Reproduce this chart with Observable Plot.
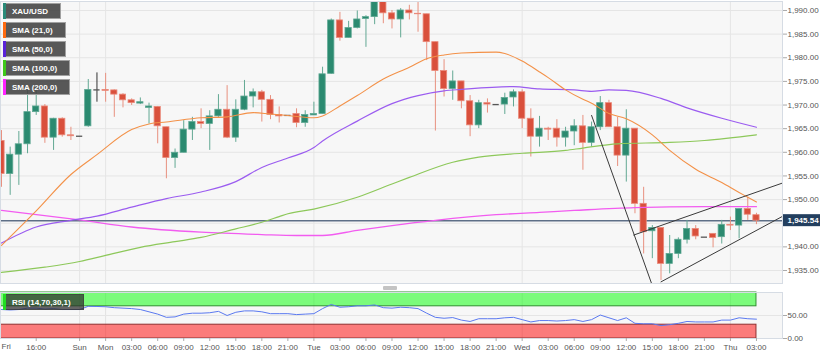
<!DOCTYPE html>
<html>
<head>
<meta charset="utf-8">
<script src="https://cdn.jsdelivr.net/npm/d3@7"></script>
<script src="https://cdn.jsdelivr.net/npm/@observablehq/plot@0.6"></script>
<style>
html,body{margin:0;padding:0;background:#fff;}
#wrap{position:relative;width:831px;height:357px;overflow:hidden;font-family:"Liberation Sans",Arial,sans-serif;}
#main,#rsi{position:absolute;left:0;}
#main{top:0;}
#rsi{top:288px;}
.leg{position:absolute;left:3px;height:16px;box-sizing:border-box;padding:0 12px 0 9px;line-height:15px;font-size:8px;font-weight:bold;color:#fff;background:rgba(70,70,70,0.9);border:1px solid #a0a0a0;border-left:none;white-space:nowrap;}
.leg b{position:absolute;left:0;top:-1px;bottom:-1px;width:3px;}
.leg.rsi{background:rgba(45,45,45,0.72);border-color:rgba(60,60,60,0.6);}
#handle{position:absolute;left:383px;top:286px;width:14px;height:4px;background:#c4c4c4;border-radius:1px;}
</style>
</head>
<body>
<div id="wrap">
  <div id="main"></div>
  <div id="handle"></div>
  <div id="rsi"></div>
</div>
<script>
// ---------- data ----------
const open  = [1962.4,1955.4,1959.5,1961.7,1968.5,1969.7,1963.1,1967.1,1963.6,1963.4,
               1965.5,1973.2,1973.2,1973.1,1972.2,1971.0,1970.3,1969.4,1969.6,1965.3,
               1958.8,1959.9,1964.8,1966.4,1966.0,1967.6,1969.0,1963.1,1969.0,1971.8,
               1972.7,1971.1,1967.9,1967.8,1968.1,1966.2,1967.8,1968.1,1976.6,1987.9,
               1984.2,1986.3,1988.2,1988.6,1992.4,1989.4,1988.1,1990.0,1989.3,1989.2,
               1983.3,1977.2,1973.4,1975.0,1970.8,1965.7,1970.4,1970.1,1970.1,1971.6,
               1972.7,1967.1,1963.3,1965.0,1965.0,1963.1,1964.4,1965.5,1962.0,1965.3,
               1970.4,1965.3,1959.3,1965.0,1949.1,1943.3,1944.0,1936.4,1938.5,1941.5,
               1943.8,1942.05,1942.75,1942.05,1944.65,1944.5,1948.0,1946.7];
const high  = [1964.6,1961.1,1964.4,1973.1,1973.1,1970.1,1967.2,1967.3,1965.3,1963.4,
               1975.4,1976.8,1976.7,1973.2,1972.4,1971.3,1971.5,1970.4,1969.7,1965.3,
               1960.7,1966.7,1967.4,1969.2,1968.8,1972.2,1974.1,1971.1,1975.2,1973.4,
               1973.1,1972.0,1969.6,1967.8,1969.2,1968.8,1970.6,1978.0,1988.2,1989.6,
               1987.7,1989.9,1988.9,1993.5,1993.5,1990.0,1990.4,1991.1,1991.8,1989.2,
               1983.3,1979.6,1977.2,1975.0,1972.0,1971.0,1971.3,1970.1,1972.5,1973.2,
               1973.2,1969.2,1967.6,1965.3,1966.9,1965.3,1966.9,1967.8,1966.4,1971.8,
               1971.0,1967.4,1969.0,1965.0,1952.6,1944.5,1944.0,1942.4,1941.9,1945.6,
               1944.5,1942.05,1942.75,1945.6,1946.3,1948.0,1950.5,1947.1];
const low   = [1952.6,1950.9,1953.0,1959.7,1967.8,1961.9,1960.4,1963.2,1962.5,1963.4,
               1965.3,1970.6,1970.6,1967.4,1969.4,1969.9,1970.1,1966.0,1961.8,1954.4,
               1956.6,1959.9,1962.5,1965.0,1960.4,1967.4,1962.9,1962.1,1968.8,1969.4,
               1966.4,1966.9,1966.2,1967.8,1965.2,1965.3,1967.8,1968.1,1976.5,1983.5,
               1984.2,1986.1,1982.2,1987.0,1987.2,1986.1,1984.2,1988.0,1985.4,1979.4,
               1964.5,1971.7,1971.0,1969.2,1963.3,1965.0,1968.3,1970.1,1968.0,1969.6,
               1965.0,1959.0,1961.1,1962.5,1961.1,1961.1,1961.4,1956.2,1961.1,1964.6,
               1965.3,1957.0,1953.7,1947.0,1938.5,1937.5,1932.9,1934.3,1937.5,1940.6,
               1941.5,1942.05,1939.8,1940.6,1943.45,1941.7,1945.6,1944.7];
const close = [1955.4,1959.5,1961.7,1968.5,1969.7,1963.1,1967.1,1963.6,1963.4,1963.4,
               1973.2,1973.2,1973.0,1972.2,1971.0,1970.4,1970.6,1969.7,1965.5,1958.8,
               1959.9,1964.8,1966.4,1966.0,1967.6,1969.0,1963.1,1969.0,1971.8,1972.7,
               1971.1,1967.9,1967.6,1967.8,1966.2,1967.9,1968.1,1976.5,1987.9,1984.2,
               1986.3,1988.1,1988.6,1992.4,1989.4,1988.1,1990.0,1989.4,1989.2,1983.3,
               1977.2,1973.4,1975.0,1970.8,1965.7,1970.4,1970.1,1970.1,1971.5,1972.7,
               1967.1,1963.3,1965.0,1964.8,1963.1,1964.4,1965.5,1962.0,1965.3,1970.4,
               1965.3,1959.3,1965.0,1949.1,1943.1,1944.0,1936.4,1938.5,1941.5,1943.8,
               1942.2,1942.05,1941.9,1944.65,1944.5,1948.0,1946.8,1945.54];

// moving averages: [bar index, value]
const sma21 = [[0,1940.3],[4,1947.6],[8,1955.3],[11,1959.5],[15,1964.8],[17,1966.0],[19,1966.4],
  [23,1967.3],[26,1967.5],[29,1968.4],[31,1968.1],[33,1967.8],[36,1967.3],[37,1967.7],[39,1969.8],
  [41,1972.0],[44,1975.5],[47,1978.0],[49,1979.8],[51,1980.6],[53,1981.0],[57,1981.2],[58,1980.9],
  [60,1979.3],[62,1977.0],[63,1975.8],[65,1973.2],[67,1971.2],[68,1970.4],[70,1968.2],[72,1967.1],
  [75,1963.7],[77,1960.4],[80,1956.4],[83,1953.6],[85,1951.5],[86,1950.5],[87,1949.5]];
const sma50 = [[0,1940.8],[4,1944.2],[8,1945.6],[11,1946.5],[15,1948.4],[19,1950.2],[23,1951.6],
  [27,1953.8],[30,1956.8],[33,1958.8],[36,1961.0],[37,1962.4],[41,1966.6],[45,1970.3],[48,1972.0],
  [51,1973.0],[53,1973.3],[59,1973.9],[62,1973.4],[66,1973.2],[68,1972.9],[70,1973.2],[72,1973.1],
  [76,1971.4],[79,1969.4],[83,1967.2],[87,1965.3]];
const sma100 = [[0,1934.6],[5,1935.7],[9,1936.9],[12,1938.2],[16,1939.9],[20,1941.1],[23,1942.0],
  [27,1943.8],[30,1945.2],[32,1946.4],[33,1947.0],[36,1948.0],[41,1950.5],[45,1953.3],[47,1954.7],
  [52,1957.9],[55,1959.0],[60,1959.8],[65,1960.4],[67,1960.9],[71,1961.8],[77,1962.1],[81,1962.5],[87,1963.7]];
const sma200 = [[0,1947.7],[9,1945.7],[15,1944.2],[23,1943.1],[30,1942.6],[34,1942.4],[37,1942.4],
  [41,1943.5],[45,1944.5],[50,1945.6],[57,1946.8],[62,1947.3],[66,1947.7],[73,1948.3],[81,1948.5],[87,1948.5]];

// drawn trend lines: [bar index, price]
const trendDown  = [[68,1967.8],[75,1931.8]];
const trendUpper = [[72.86,1942.5],[90,1953.5]];
const trendLower = [[76,1932.6],[90,1946.45]];

const rsi = [63,62,63,66,66,64,65,63,63,63, 70,69.6,69,67,66,65,63,58,53,46,
             47,53,55,55,56,59,50,57,60,60, 58,54,54,54,52,53,54,65,74,68,
             69,71,71,73,67,66,68,67,65,55, 46,44,45.5,40,37,43,43,43,45,46,
             41,36,39,39,38,39,41,37,41,51, 45,39,45,33,32,32,28,30,33,37,
             36,36,36,40,40,45,43,42];
const rsiUpper = [70,100];
const rsiLower = [0,30];

const yGrid = [1935,1940,1945,1950,1955,1960,1965,1970,1975,1980,1985,1990];
const yTicks = [1935,1940,1950,1955,1960,1965,1970,1975,1980,1985,1990];
const lastClose = 1945.54;
const dayIdx = [9,12,36,60,84];
const xTickIdx = [0,4,9,12,15,18,21,24,27,30,33,36,39,42,45,48,51,54,57,60,63,66,69,72,75,78,81,84,87];
const xTickLabels = ["Fri","16:00","Sun","Mon","03:00","06:00","09:00","12:00","15:00","18:00","21:00",
  "Tue","03:00","06:00","09:00","12:00","15:00","18:00","21:00","Wed","03:00","06:00","09:00","12:00",
  "15:00","18:00","21:00","Thu","03:00"];
const legendNames = ["XAU/USD","SMA (21,0)","SMA (50,0)","SMA (100,0)","SMA (200,0)"];
const legendColors = ["#2a8a78","#ff6a10","#5a22d8","#3ec81a","#ff22ff"];
const rsiName = "RSI (14,70,30,1)";

// ---------- build ----------
const FONT = "Liberation Sans, Arial, sans-serif";
const fmt = d3.format(",.2f");
const xDom = [-0.115, 90];
const bars = open.map((o, i) => ({i, o, h: high[i], l: low[i], c: close[i]}));
const up = bars.filter(d => d.c > d.o);
const down = bars.filter(d => d.c < d.o);
const flat = bars.filter(d => d.c === d.o);
const pts = a => a.map(([i, v]) => ({i, v}));
const HW = 0.36;

const main = Plot.plot({
  width: 831, height: 287,
  marginLeft: 0, marginRight: 49, marginTop: 1, marginBottom: 4,
  x: {domain: xDom, axis: null},
  y: {domain: [1932.25, 1991.9], axis: null},
  style: {fontFamily: FONT, background: "transparent"},
  marks: [
    Plot.frame({fill: "#f7f7f7"}),
    Plot.ruleY(yGrid, {stroke: "#e5e5e5"}),
    Plot.ruleX(dayIdx, {stroke: "#e5e5e5"}),
    Plot.ruleY([lastClose], {stroke: "#5e6f87", strokeWidth: 1.5}),
    // wicks
    Plot.ruleX(up, {x: "i", y1: "l", y2: "h", stroke: "#62a893", clip: true}),
    Plot.ruleX(down, {x: "i", y1: "l", y2: "h", stroke: "#e8907f", clip: true}),
    Plot.ruleX(flat, {x: "i", y1: "l", y2: "h", stroke: "#333", clip: true}),
    // bodies
    Plot.rect(up, {x1: d => d.i - HW, x2: d => d.i + HW, y1: "o", y2: "c", fill: "#2b8a70", stroke: "#5fa893", strokeWidth: 0.8, clip: true}),
    Plot.rect(down, {x1: d => d.i - HW, x2: d => d.i + HW, y1: "o", y2: "c", fill: "#d9503c", stroke: "#ea8a7b", strokeWidth: 0.8, clip: true}),
    Plot.ruleY(flat, {y: "o", x1: d => d.i - HW, x2: d => d.i + HW, stroke: "#555", strokeWidth: 1.3}),
    // SMAs
    Plot.line(pts(sma200), {x: "i", y: "v", stroke: "#f25cf0", strokeWidth: 1.3, curve: "monotone-x"}),
    Plot.line(pts(sma100), {x: "i", y: "v", stroke: "#8dc85a", strokeWidth: 1.2, curve: "monotone-x"}),
    Plot.line(pts(sma50), {x: "i", y: "v", stroke: "#9b5cf0", strokeWidth: 1.2, curve: "monotone-x"}),
    Plot.line(pts(sma21), {x: "i", y: "v", stroke: "#f39148", strokeWidth: 1.1, curve: "monotone-x"}),
    // trend lines
    Plot.line(pts(trendDown), {x: "i", y: "v", stroke: "#3a3a3a", strokeWidth: 1, clip: true}),
    Plot.line(pts(trendUpper), {x: "i", y: "v", stroke: "#3a3a3a", strokeWidth: 1, clip: true}),
    Plot.line(pts(trendLower), {x: "i", y: "v", stroke: "#3a3a3a", strokeWidth: 1, clip: true}),
    Plot.frame({stroke: "#d6dce4"}),
    Plot.axisY(yTicks, {anchor: "right", tickFormat: fmt, tickSize: 4, tickPadding: 1, fontSize: 8, fill: "#555", stroke: "#aaa"}),
    Plot.text([lastClose], {y: d => d, frameAnchor: "right", dx: 5, textAnchor: "start", text: d => fmt(d), fill: "white", fontWeight: "bold", fontSize: 8})
  ]
});
// price tag box behind the last-price text
{
  const yy = main.scale("y").apply(lastClose);
  const g = d3.select(main).selectAll("g[aria-label='text']").nodes().pop();
  d3.select(main).insert("rect", () => g)
    .attr("x", 783).attr("y", yy - 6).attr("width", 37).attr("height", 12)
    .attr("fill", "#233f5f");
}
document.getElementById("main").appendChild(main);

const labelMap = new Map(xTickIdx.map((d, k) => [d, xTickLabels[k]]));
const bands = [
  {from: xDom[0], to: bars.length - 1, lo: rsiUpper[0], hi: rsiUpper[1], kind: "up"},
  {from: xDom[0], to: bars.length - 1, lo: rsiLower[0], hi: rsiLower[1], kind: "lo"}
];
const rsiPlot = Plot.plot({
  width: 831, height: 69,
  marginLeft: 0, marginRight: 49, marginTop: 4, marginBottom: 19,
  x: {domain: xDom, axis: null},
  y: {domain: [0, 100], axis: null},
  style: {fontFamily: FONT, background: "transparent"},
  marks: [
    Plot.frame({fill: "#f7f7f7"}),
    Plot.ruleX(dayIdx, {stroke: "#e2e2e2"}),
    Plot.ruleY([50], {stroke: "#e5e5e5"}),
    Plot.rect(bands.filter(b => b.kind === "up"), {x1: "from", x2: "to", y1: "lo", y2: "hi", fill: "#00ff00", fillOpacity: 0.5, stroke: "#2f8f2f", strokeWidth: 1}),
    Plot.rect(bands.filter(b => b.kind === "lo"), {x1: "from", x2: "to", y1: "lo", y2: "hi", fill: "#ff0000", fillOpacity: 0.5, stroke: "#8f3030", strokeWidth: 1}),
    Plot.line(rsi.map((v, i) => ({i, v})), {x: "i", y: "v", stroke: "#5b79f0", strokeWidth: 1}),
    Plot.frame({stroke: "#d6dce4"}),
    Plot.axisY([0, 50], {anchor: "right", tickFormat: d3.format(".2f"), tickSize: 4, tickPadding: 1, fontSize: 8, fill: "#555", stroke: "#aaa"}),
    Plot.axisX(xTickIdx.slice(1), {anchor: "bottom", tickFormat: d => labelMap.get(d), tickSize: 3, tickPadding: 3, fontSize: 8, fill: "#555", stroke: "#aaa"}),
    Plot.text(xTickIdx.slice(0, 1), {x: d => d, frameAnchor: "bottom", dy: 10, textAnchor: "start", text: d => labelMap.get(d), fontSize: 8, fill: "#555"})
  ]
});
document.getElementById("rsi").appendChild(rsiPlot);

// legend boxes
const wrap = document.getElementById("wrap");
legendNames.forEach((name, k) => {
  const el = document.createElement("div");
  el.className = "leg";
  el.style.top = (3 + k * 19) + "px";
  el.innerHTML = `<b style="background:${legendColors[k]}"></b>`;
  el.appendChild(document.createTextNode(name));
  wrap.appendChild(el);
});
{
  const el = document.createElement("div");
  el.className = "leg rsi";
  el.style.top = "294px";
  el.innerHTML = `<b style="background:#22dd22"></b>`;
  el.appendChild(document.createTextNode(rsiName));
  wrap.appendChild(el);
}
</script>
</body>
</html>
